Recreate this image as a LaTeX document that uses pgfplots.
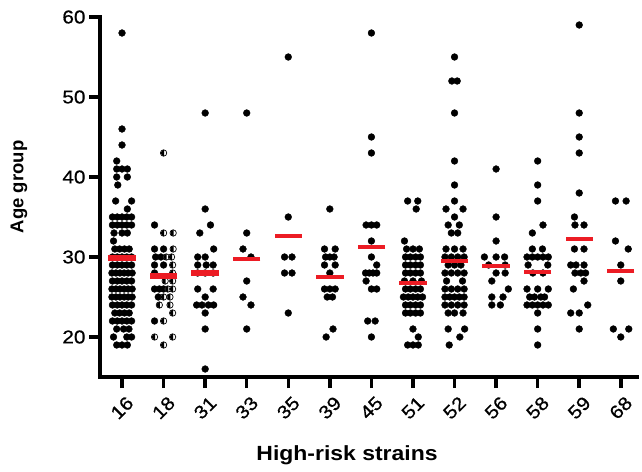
\documentclass[border=0pt]{standalone}
\usepackage{pgfplots}
\pgfplotsset{compat=1.18}
\usepackage{pgfplotstable}
\usepackage{fontspec}
\setmainfont{Liberation Sans}
\newfontfamily\widefont[FakeStretch=1.12]{Liberation Sans}
\newfontfamily\tickfont[FakeStretch=1.12, FakeBold=0.7]{Liberation Sans}

\definecolor{meanred}{RGB}{236,28,36}

% circle with the left half black, the right half white
\pgfdeclareplotmark{lefthalf}{%
  \pgfpathcircle{\pgfpointorigin}{\pgfplotmarksize}%
  \pgfsetfillcolor{white}%
  \pgfusepathqfillstroke
  \pgfpathmoveto{\pgfqpoint{0.15\pgfplotmarksize}{\pgfplotmarksize}}%
  \pgfpatharc{90}{270}{\pgfplotmarksize}%
  \pgfpathclose
  \pgfsetfillcolor{black}%
  \pgfusepathqfill
}

% c = strain index, o = sideways offset in dot widths, v = age
\pgfplotstableread{
c o v
0 0 58
0 0 46
0 0 44
0 -1 42
0 -1 41
0 0 41
0 1 41
0 -1 40
0 1 40
0 -0.8 39
0 -1.2 37
0 1.8 37
0 1 36
0 -1.8 35
0 -0.9 35
0 0 35
0 0.9 35
0 1.8 35
0 -1.8 34
0 -0.9 34
0 0 34
0 0.9 34
0 1.8 34
0 -1.5 33
0 0 33
0 1 33
0 -1.6 32
0 -1.35 31
0 -0.45 31
0 0.45 31
0 1.35 31
0 -1.8 30
0 -0.9 30
0 0 30
0 0.9 30
0 1.8 30
0 -1.8 29
0 -0.9 29
0 0 29
0 0.9 29
0 1.8 29
0 -1.9 28
0 -1.15 28
0 -0.4 28
0 0.4 28
0 1.15 28
0 1.9 28
0 -1.8 27
0 -0.9 27
0 0 27
0 0.9 27
0 1.8 27
0 -1.9 26
0 -1.15 26
0 -0.4 26
0 0.4 26
0 1.15 26
0 1.9 26
0 -1.9 25
0 -1.15 25
0 -0.4 25
0 0.4 25
0 1.15 25
0 1.9 25
0 -1.8 24
0 -0.9 24
0 0 24
0 0.9 24
0 1.8 24
0 -1.35 23
0 -0.45 23
0 0.45 23
0 1.35 23
0 -1.8 22
0 -0.9 22
0 0 22
0 0.9 22
0 1.8 22
0 -1 21
0 0.3 21
0 1.3 21
0 -1.6 20
0 0.9 20
0 1.8 20
0 -1 19
0 0 19
0 1 19
1 -1.7 34
1 -1.7 31
1 0 31
1 -1.5 30
1 -0.5 30
1 -1.7 29
1 0 29
1 -1.7 28
1 -1.7 26
1 -0.8 26
1 0 26
1 -1 25
1 -1.7 22
2 0 48
2 0 36
2 1 34
2 -1 33
2 1.6 31
2 -1.4 30
2 0 30
2 -1.4 29
2 0.2 29
2 1.5 29
2 -1.4 28
2 0 28
2 1.5 28
2 -1.4 26
2 1.5 26
2 0 25
2 -1.6 24
2 -0.6 24
2 0.6 24
2 1.6 24
2 0 23
2 0 21
2 0 16
3 0 48
3 0 33
3 -0.7 31
3 0.8 30
3 0 27
3 -0.7 25
3 0.8 24
3 0 21
4 0 55
4 0 35
4 -0.7 30
4 0.7 30
4 -0.7 28
4 0.7 28
4 0 23
5 0 36
5 -1 31
5 1 31
5 -0.8 30
5 0 30
5 0.8 30
5 -1 29
5 1 29
5 0 28
5 -1 26
5 0 26
5 1 26
5 -0.5 25
5 0.5 25
5 0.6 21
5 -0.7 20
6 0 58
6 0 45
6 0 43
6 -1 34
6 0 34
6 1 34
6 0 32
6 0 30
6 1 29
6 -1.1 28
6 -0.4 28
6 0.3 28
6 1 28
6 -1 27
6 0 26
6 1 26
6 -0.7 22
6 0.7 22
6 0 20
7 -1 37
7 0.9 37
7 0.6 36
7 -1.6 32
7 -1.2 31
7 0 31
7 1.2 31
7 -1.4 30
7 -0.5 30
7 0.5 30
7 1.4 30
7 -1.4 29
7 -0.5 29
7 0.5 29
7 1.4 29
7 -1.4 28
7 -0.5 28
7 0.5 28
7 1.4 28
7 -1.6 27
7 0 27
7 1.6 27
7 -1.4 26
7 -0.5 26
7 0.5 26
7 1.4 26
7 -1.8 25
7 -0.9 25
7 0 25
7 0.9 25
7 1.8 25
7 -1.4 24
7 -0.5 24
7 0.5 24
7 1.4 24
7 -1.4 23
7 -0.5 23
7 0.5 23
7 1.4 23
7 0 21
7 1 20
7 -1 19
7 0 19
7 1 19
8 0 55
8 -0.5 52
8 0.5 52
8 0 48
8 0 42
8 0 39
8 0 37
8 -1.6 36
8 1.6 36
8 0 35
8 -1.2 34
8 0.9 34
8 -0.6 33
8 0.6 33
8 -1.6 31
8 0 31
8 1.6 31
8 -1.8 30
8 -0.6 30
8 0.6 30
8 1.8 30
8 -1.2 29
8 0 29
8 1.2 29
8 -1.8 28
8 -0.6 28
8 0.6 28
8 1.8 28
8 -1.5 27
8 1.5 27
8 -1.8 26
8 -0.6 26
8 0.6 26
8 1.8 26
8 -1.8 25
8 -0.9 25
8 0 25
8 0.9 25
8 1.8 25
8 -1.8 24
8 -0.6 24
8 0.6 24
8 1.8 24
8 -1.2 23
8 0 23
8 1.6 23
8 -1.2 21
8 1.9 21
8 1 20
8 -1 19
9 0 41
9 0 35
9 0 32
9 -2.2 30
9 0 30
9 1.6 30
9 -1.4 29
9 1.7 29
9 0 28
9 1.7 28
9 -0.8 27
9 2.3 26
9 -0.8 25
9 1.3 25
9 -0.8 24
9 0.8 24
10 0 42
10 0 39
10 0 37
10 1 34
10 -1 33
10 -1 31
10 0.9 31
10 -2 30
10 -1 30
10 0 30
10 1 30
10 2 30
10 -1.8 29
10 1.9 29
10 -0.9 28
10 1 28
10 -2 26
10 0 26
10 2 26
10 -1.5 25
10 -0.6 25
10 0.6 25
10 1.3 25
10 -2 24
10 -1 24
10 0 24
10 1 24
10 2 24
10 0 23
10 0 21
10 0 19
11 0 59
11 0 48
11 0 45
11 0 43
11 0 38
11 -0.9 35
11 -0.8 34
11 0.9 34
11 -0.9 31
11 0.9 31
11 -1.6 29
11 -0.6 29
11 0.9 29
11 -0.8 28
11 0.3 28
11 1.2 28
11 0.9 27
11 -1.1 26
11 1.6 24
11 -1.6 23
11 0 23
11 0 21
12 -1 37
12 1 37
12 -1 32
12 1.4 31
12 0 29
12 0 27
12 -1.4 21
12 1.5 21
12 0 20
}\filled

% strain 18: points drawn half filled
\pgfplotstableread{
c o v
1 0 43
1 0 33
1 1.8 33
1 1.8 31
1 0.5 30
1 1.5 30
1 1.7 29
1 1.7 28
1 0.3 27
1 1.7 27
1 0.8 26
1 1.7 26
1 0 25
1 1.2 25
1 -0.8 24
1 1.2 24
1 1.7 23
1 0 22
1 -1.7 20
1 1.7 20
1 0 19
}\halffilled

\begin{document}
\begin{tikzpicture}
\path[use as bounding box] (-100pt,-94pt) rectangle (542pt,377pt);
\begin{axis}[
  scale only axis, width=537pt, height=360pt,
  xmin=-0.53, xmax=12.39, ymin=15, ymax=60,
  clip=false,
  axis lines=left,
  axis line style={-, line width=3.5pt, line cap=rect},
  xtick={0,...,12},
  xticklabels={16,18,31,33,35,39,45,51,52,56,58,59,68},
  ytick={20,30,...,60},
  tick align=outside, major tick length=11pt,
  major tick style={line width=3.5pt, black},
  /pgf/number format/assume math mode=true,
  ticklabel style={font=\tickfont\fontsize{18.5}{20}\selectfont},
  xticklabel style={rotate=45, anchor=east, yshift=-14pt, xshift=1pt},
  xlabel={High-risk strains},
  ylabel={Age group},
  xlabel style={at={(axis description cs:0.46,-0.217)}, anchor=center,
    font=\widefont\bfseries\fontsize{20.5}{22}\selectfont},
  ylabel style={at={(axis description cs:-0.151,0.528)}, anchor=center, rotate=0,
    font=\bfseries\fontsize{18.5}{20}\selectfont},
]
\addplot[only marks, mark=*, mark size=3.4pt, black]
  table[x expr=\thisrow{c}+0.128*\thisrow{o}, y=v] {\filled};
\addplot[only marks, mark=lefthalf, mark size=3.2pt, black,
  mark options={line width=0.7pt}]
  table[x expr=\thisrow{c}+0.128*\thisrow{o}, y=v] {\halffilled};
% means
\addplot[only marks, mark=-, mark size=13.7pt, meanred,
  mark options={line width=6pt}]
  coordinates {(0,29.85) (1,27.66) (2,28.0)};
\addplot[only marks, mark=-, mark size=13.7pt, meanred,
  mark options={line width=4pt}]
  coordinates {(3,29.75) (4,32.6) (5,27.5) (6,31.2) (7,26.8) (8,29.5)
    (9,28.9) (10,28.1) (11,32.3) (12,28.25)};
\end{axis}
\end{tikzpicture}
\end{document}
